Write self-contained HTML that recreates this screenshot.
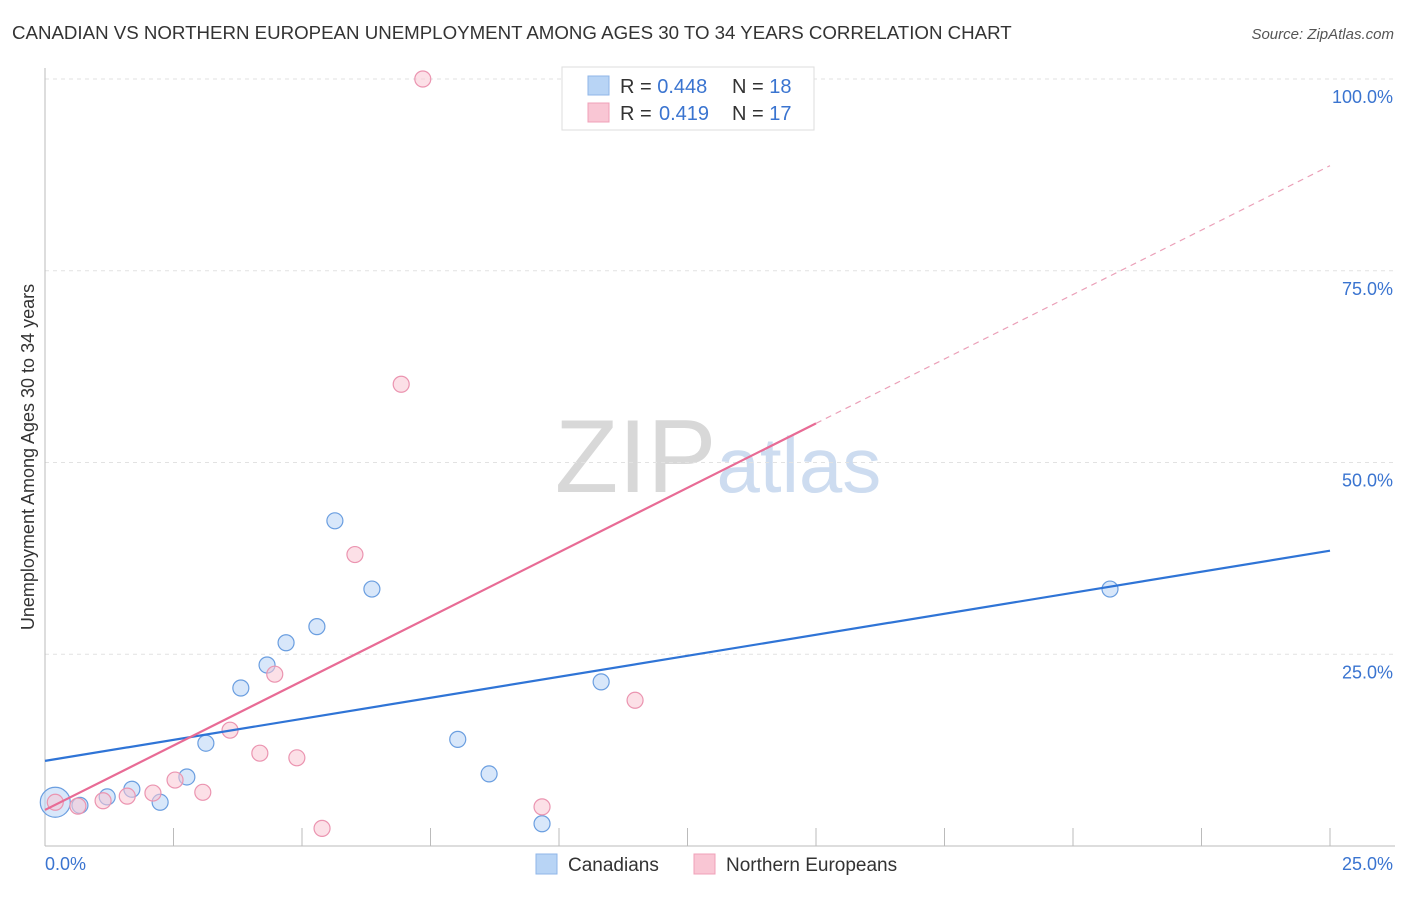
<!DOCTYPE html>
<html><head><meta charset="utf-8"><style>
body{margin:0;background:#fff;font-family:"Liberation Sans",sans-serif;}
svg text{font-family:"Liberation Sans",sans-serif;}
</style></head><body>
<svg id="c" width="1406" height="892" xmlns="http://www.w3.org/2000/svg">
<text x="12" y="39" font-size="18.7" fill="#333">CANADIAN VS NORTHERN EUROPEAN UNEMPLOYMENT AMONG AGES 30 TO 34 YEARS CORRELATION CHART</text>
<text x="1394" y="39" font-size="15" fill="#555" font-style="italic" text-anchor="end">Source: ZipAtlas.com</text>
<text x="718" y="492" font-size="104" fill="#ddd" text-anchor="middle" font-family="Liberation Serif"><tspan fill="#d8d8d8">ZIP</tspan><tspan fill="#cddcf0" font-family="Liberation Sans" font-size="78">atlas</tspan></text>
<text transform="translate(34,457) rotate(-90)" font-size="18" fill="#333" text-anchor="middle">Unemployment Among Ages 30 to 34 years</text>
<g id="grid"></g><g id="marks"></g>
<g>
<rect x="562" y="67" width="252" height="63" fill="#fff" stroke="#ddd"/>
<rect x="588" y="76" width="21" height="19" fill="#b8d4f5" stroke="#8fb6e8"/>
<rect x="588" y="103" width="21" height="19" fill="#f9c6d4" stroke="#f0a0b8"/>
<text x="620" y="93" font-size="20" fill="#333">R = <tspan fill="#3a74d0">0.448</tspan><tspan x="732">N = </tspan><tspan fill="#3a74d0">18</tspan></text>
<text x="620" y="120" font-size="20" fill="#333">R = <tspan x="659" fill="#3a74d0">0.419</tspan><tspan x="732">N = </tspan><tspan fill="#3a74d0">17</tspan></text>
</g>
<g>
<rect x="536" y="854" width="21" height="20" fill="#b8d4f5" stroke="#8fb6e8"/>
<text x="568" y="871" font-size="19" fill="#333">Canadians</text>
<text x="726" y="871" font-size="19" fill="#333">Northern Europeans</text>
<rect x="694" y="854" width="21" height="20" fill="#f9c6d4" stroke="#f0a0b8"/>
</g>
</svg>
<script>
const yTicks=[25,50,75,100];
const yTickLabels=["25.0%","50.0%","75.0%","100.0%"];
const xTickLabels=["0.0%","25.0%"];
const canX=[0.2,0.68,1.21,1.69,2.24,2.76,3.13,3.81,4.32,4.69,5.29,5.64,6.36,8.03,8.64,9.67,10.82,20.72];
const canY=[5.7,5.3,6.4,7.4,5.7,9.0,13.4,20.6,23.6,26.5,28.6,42.4,33.5,13.9,9.4,2.9,21.4,33.5];
const neX=[7.35,6.93,6.03,4.47,3.6,4.18,4.9,3.07,2.53,2.1,1.6,1.13,0.64,0.2,5.39,9.67,11.48];
const neY=[100,60.2,38.0,22.4,15.1,12.1,11.5,7.0,8.6,6.9,6.5,5.9,5.2,5.7,2.3,5.1,19.0];
const canLine=[11.1,38.5];
const neLine=[4.7,3.36];
const NS="http://www.w3.org/2000/svg";
const X=v=>45+v*51.4, Y=v=>846-v*7.67;
function mk(t,a,p){const e=document.createElementNS(NS,t);for(const k in a)e.setAttribute(k,a[k]);p.appendChild(e);return e;}
const g=document.getElementById('grid'),m=document.getElementById('marks');
yTicks.forEach((t,i)=>{
 const l=mk('line',{x1:45,x2:1395,y1:Y(t),y2:Y(t),stroke:'#e2e2e2','stroke-dasharray':'4,4'},g);
 
 
 const tx=mk('text',{x:1393,y:Y(t)+24,'font-size':18,fill:'#3a74d0','text-anchor':'end'},g);
 tx.textContent=yTickLabels[i];
 
 
});
const ax=mk('line',{x1:45,x2:45,y1:68,y2:846,stroke:'#bbb'},g);


const bx=mk('line',{x1:45,x2:1395,y1:846,y2:846,stroke:'#bbb'},g);


for(let i=1;i<=10;i++){const t=mk('line',{x1:X(i*2.5),x2:X(i*2.5),y1:828,y2:846,stroke:'#bbb'},g);
 
 }
xTickLabels.forEach((s,i)=>{const t=mk('text',{x:i?1393:45,y:870,'font-size':18,fill:'#3a74d0','text-anchor':i?'end':'start'},g);t.textContent=s;
 
 });
function pts(xs,ys,fill,stroke,name){xs.forEach((x,i)=>{
 const c=mk('circle',{cx:X(x),cy:Y(ys[i]),r:(name==='can'&&i===0)?15:8,fill,stroke,'stroke-width':1.2,'fill-opacity':0.55},m);
 
 });}
pts(canX,canY,'#b8d4f5','#6a9ee0','can');
pts(neX,neY,'#f9c6d4','#eb94b0','ne');
const bl=mk('line',{x1:X(0),y1:Y(canLine[0]),x2:X(25),y2:Y(canLine[1]),stroke:'#2f74d6','stroke-width':2.2},m);


const pl=mk('line',{x1:X(0),y1:Y(neLine[0]),x2:X(15),y2:Y(neLine[0]+neLine[1]*15),stroke:'#e86b95','stroke-width':2.2},m);


const pd=mk('line',{x1:X(15),y1:Y(neLine[0]+neLine[1]*15),x2:X(25),y2:Y(neLine[0]+neLine[1]*25),stroke:'#eba0b8','stroke-width':1.2,'stroke-dasharray':'6,5'},m);


</script>
</body></html>
